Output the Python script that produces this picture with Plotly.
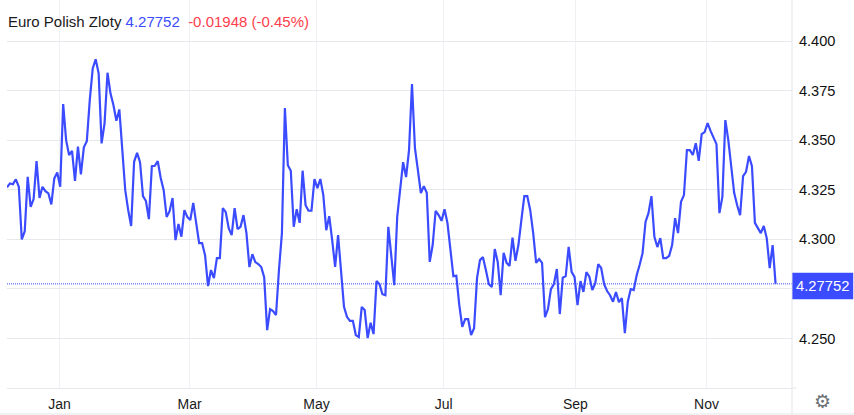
import plotly.graph_objects as go

name = "Euro Polish Zloty"
last_text = "4.27752"
change_text = "-0.01948 (-0.45%)"
month_labels = ["Jan", "Mar", "May", "Jul", "Sep", "Nov"]
month_pos_frac = [0.0683, 0.2375, 0.4028, 0.5681, 0.7396, 0.9101]
y_ticks = [4.25, 4.275, 4.30, 4.325, 4.35, 4.375, 4.40]
y_tick_shown = ["4.250", "", "4.300", "4.325", "4.350", "4.375", "4.400"]

prices = [
 4.3262,4.3282,4.3278,4.3302,4.3265,4.2999,4.3041,4.3315,4.3164,4.3203,4.3394,4.3209,4.3265,4.3243,4.3232,4.3176,
 4.3307,4.3337,4.3265,4.3682,4.3500,4.3425,4.3446,4.3295,4.3467,4.3327,4.3464,4.3495,4.3702,4.3862,4.3908,4.3837,
 4.3484,4.3585,4.3840,4.3736,4.3677,4.3598,4.3655,4.3467,4.3248,4.3147,4.3067,4.3391,4.3436,4.3389,4.3218,4.3193,
 4.3102,4.3369,4.3371,4.3394,4.3309,4.3248,4.3113,4.3142,4.3208,4.2996,4.3077,4.3013,4.3147,4.3113,4.3097,4.3184,
 4.3072,4.2981,4.2981,4.2920,4.2764,4.2845,4.2804,4.2905,4.2905,4.3157,4.3137,4.3056,4.3021,4.3157,4.3051,4.3063,
 4.3122,4.3031,4.2860,4.2925,4.2885,4.2875,4.2860,4.2809,4.2542,4.2648,4.2638,4.2618,4.2845,4.3031,4.3662,4.3374,
 4.3346,4.3063,4.3152,4.3083,4.3346,4.3172,4.3144,4.3144,4.3304,4.3258,4.3304,4.3223,4.3046,4.3117,4.2996,4.2861,
 4.3021,4.2845,4.2659,4.2609,4.2589,4.2589,4.2517,4.2507,4.2659,4.2643,4.2502,4.2579,4.2522,4.2789,4.2774,4.2723,
 4.2718,4.3063,4.2895,4.2769,4.3113,4.3248,4.3389,4.3314,4.3450,4.3783,4.3460,4.3349,4.3233,4.3268,4.3235,4.2886,
 4.2971,4.3144,4.3122,4.3093,4.3152,4.3082,4.2956,4.2814,4.2816,4.2668,4.2559,4.2597,4.2597,4.2517,4.2552,4.2804,
 4.2895,4.2910,4.2845,4.2774,4.2759,4.2951,4.2886,4.2718,4.2932,4.2881,4.2866,4.3008,4.2891,4.2971,4.3097,4.3218,
 4.3218,4.3147,4.3031,4.2881,4.2900,4.2881,4.2607,4.2648,4.2749,4.2774,4.2850,4.2623,4.2806,4.2814,4.2962,4.2836,
 4.2809,4.2668,4.2789,4.2735,4.2834,4.2811,4.2744,4.2779,4.2875,4.2855,4.2774,4.2739,4.2718,4.2685,4.2734,4.2683,
 4.2703,4.2527,4.2685,4.2749,4.2744,4.2819,4.2870,4.2930,4.3088,4.3132,4.3218,4.3013,4.2961,4.3006,4.2905,4.2905,
 4.2917,4.2971,4.3107,4.3031,4.3189,4.3223,4.3450,4.3450,4.3425,4.3485,4.3396,4.3531,4.3541,4.3586,4.3547,4.3516,
 4.3480,4.3132,4.3214,4.3601,4.3500,4.3366,4.3233,4.3172,4.3122,4.3319,4.3340,4.3420,4.3369,4.3083,4.3056,4.3031,
 4.3067,4.3006,4.2855,4.2971,4.27752,
]

BLUE = "#3b4bff"
RED = "#ff3d4d"
GRID_H = "#e7e8ec"
GRID_V = "#eff1f5"
FRAME = "#e3e5ea"

idx = list(range(len(prices)))
n = len(prices) - 1
x_end = n * 784.7 / 768.3
tickvals = [f * n for f in month_pos_frac]

fig = go.Figure(go.Scatter(x=idx, y=prices, mode="lines", hoverinfo="skip",
                           line=dict(color=BLUE, width=2.2)))

shapes = [
    dict(type="rect", xref="paper", yref="paper", x0=-0.01, x1=0.4, y0=0.91, y1=0.985,
         fillcolor="white", line_width=0, layer="below"),
    dict(type="line", xref="paper", yref="y", x0=0, x1=1, y0=prices[-1], y1=prices[-1],
         line=dict(color=BLUE, width=1, dash="1px,1px")),
    dict(type="line", xref="paper", yref="paper", x0=1, x1=1, y0=-0.067, y1=1,
         line=dict(color=FRAME, width=1)),
    dict(type="line", xref="paper", yref="paper", x0=-0.01, x1=1.08, y0=-0.067, y1=-0.067,
         line=dict(color=FRAME, width=1)),
    dict(type="line", xref="paper", yref="paper", x0=1, x1=1.0055, y0=0, y1=0,
         line=dict(color=FRAME, width=1)),
    dict(type="rect", xref="paper", yref="y", x0=1.0005, x1=1.078, y0=4.2698, y1=4.2831,
         fillcolor=BLUE, line_width=0),
]

annotations = [
    dict(xref="paper", yref="paper", x=0, y=0.9435, xshift=-1, xanchor="left", yanchor="middle",
         showarrow=False, font=dict(family="Liberation Sans", size=15, color="#1a1a1a"),
         text=f"{name} <span style='color:{BLUE}'>{last_text}</span>"
              f"  <span style='color:{RED}'>{change_text}</span>"),
    dict(xref="paper", yref="y", x=1.0393, y=4.27645, xanchor="center", yanchor="middle",
         showarrow=False, font=dict(family="Liberation Sans", size=14.8, color="white"),
         text=last_text),
    dict(xref="paper", yref="paper", x=1.0385, y=-0.034, xanchor="center", yanchor="middle",
         showarrow=False, font=dict(family="DejaVu Sans", size=19, color="#6b6f76"),
         text="\u2699"),
]

fig.update_layout(
    width=854, height=415, showlegend=False,
    paper_bgcolor="white", plot_bgcolor="white",
    margin=dict(l=7, r=62.3, t=0, b=27),
    shapes=shapes, annotations=annotations,
    xaxis=dict(range=[0, x_end], tickmode="array", tickvals=tickvals, ticktext=month_labels,
               showgrid=True, gridcolor=GRID_V, gridwidth=1, zeroline=False,
               showline=True, linecolor=GRID_H, linewidth=1,
               ticks="outside", ticklen=3, tickcolor="white",
               tickfont=dict(family="Liberation Sans", size=14, color="#1a1a1a")),
    yaxis=dict(side="right", range=[4.225, 4.4207], tickmode="array", tickvals=y_ticks,
               ticktext=y_tick_shown, showgrid=True, gridcolor=GRID_H, gridwidth=1,
               zeroline=False, showline=False,
               ticks="outside", ticklen=3, tickcolor="white",
               tickfont=dict(family="Liberation Sans", size=14.6, color="#111111")),
)
fig.write_html("out.html", config=dict(displayModeBar=False),
               post_script="document.body.style.margin='0';document.documentElement.style.overflow='hidden';")
